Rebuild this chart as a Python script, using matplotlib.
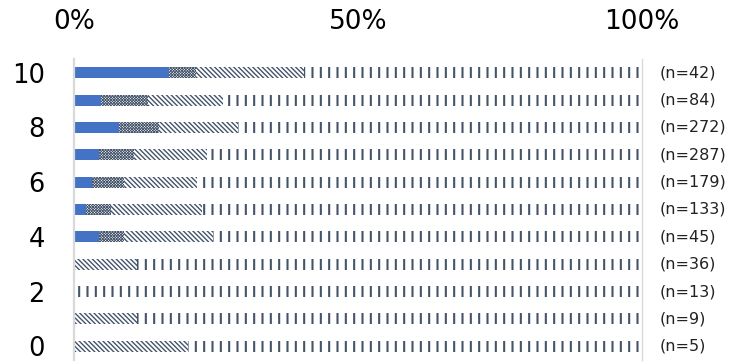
import matplotlib
matplotlib.use("Agg")
import matplotlib.pyplot as plt
import numpy as np

plt.rcParams["font.family"] = ["DejaVu Sans"]

# rows 0..10, segment shares in percent
rows = [0, 1, 2, 3, 4, 5, 6, 7, 8, 9, 10]
n_labels = ["(n=5)", "(n=9)", "(n=13)", "(n=36)", "(n=45)", "(n=133)",
            "(n=179)", "(n=287)", "(n=272)", "(n=84)", "(n=42)"]
solid = [0, 0, 0, 0, 4.4, 2.1, 3.2, 4.4, 7.9, 4.8, 16.7]
checker = [0, 0, 0, 0, 4.4, 4.5, 5.6, 6.2, 7.1, 8.3, 4.8]
diagonal = [20.0, 11.1, 0, 11.1, 15.6, 15.9, 12.8, 12.9, 13.9, 13.1, 19.0]
vertical = [100 - a - b - c for a, b, c in zip(solid, checker, diagonal)]

xticks = [0, 50, 100]
xtick_labels = ["0%", "50%", "100%"]
yticks = [0, 2, 4, 6, 8, 10]

hatch_col = "#44546A"
grey = "#D9D9D9"

fig = plt.figure(figsize=(7.33, 3.62), dpi=100)
ax = fig.add_axes([74 / 733, 2 / 362, (642 - 74) / 733, 301 / 362])

segments = [
    (solid, None, 0.0),
    (checker, "x" * 12, 0.6),
    (diagonal, "\\" * 7, 1.0),
    (vertical, "||", 1.5),
]
left = np.zeros(len(rows))
for vals, hatch, hlw in segments:
    vals = np.array(vals)
    if hatch is None:
        ax.barh(rows, vals, left=left, height=0.4, color="#4472C4", linewidth=0)
    else:
        bars = ax.barh(rows, vals, left=left, height=0.4, color="white",
                       edgecolor=hatch_col, hatch=hatch, linewidth=0)
        for b in bars:
            if hasattr(b, "set_hatch_linewidth"):
                b.set_hatch_linewidth(hlw)
    left += vals

for y, lab in zip(rows, n_labels):
    ax.annotate(lab, xy=(1, y), xycoords=("axes fraction", "data"),
                xytext=(13, 0), textcoords="offset points",
                ha="left", va="center", fontsize=11.5, color="#222222")

ax.set_xlim(0, 100)
ax.set_ylim(-0.5, 10.5)
ax.xaxis.tick_top()
ax.set_xticks(xticks)
ax.set_xticklabels(xtick_labels)
ax.set_yticks(yticks)
ax.tick_params(axis="x", length=0, pad=17, labelsize=19)
ax.tick_params(axis="y", length=0, pad=21, labelsize=18.5)

for s in ["top", "bottom"]:
    ax.spines[s].set_visible(False)
ax.spines["left"].set_color(grey)
ax.spines["left"].set_linewidth(1.6)
ax.spines["right"].set_color(grey)
ax.spines["right"].set_linewidth(1.0)

fig.savefig("out.png", dpi=100)
